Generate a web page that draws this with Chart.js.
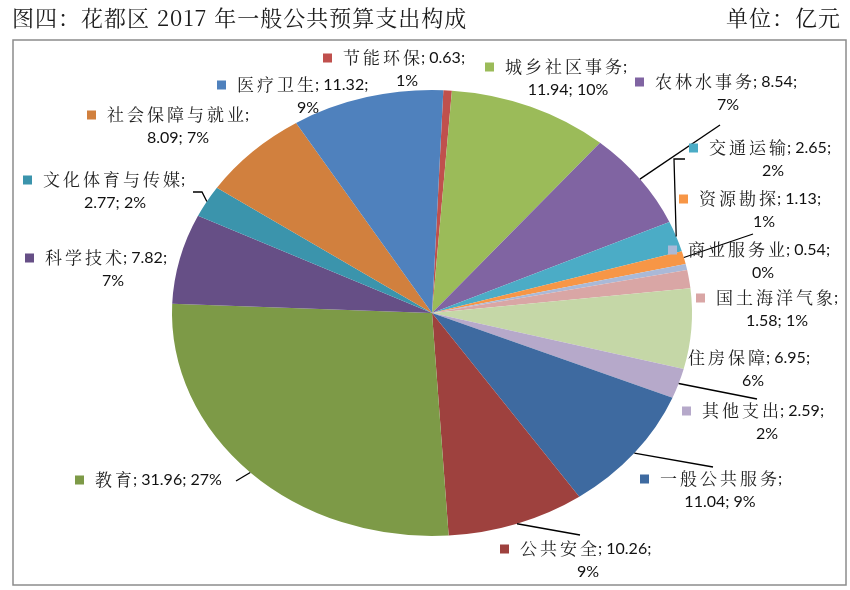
<!DOCTYPE html>
<html>
<head>
<meta charset="utf-8">
<script src="https://cdn.jsdelivr.net/npm/chart.js@4"></script>
<style>
  html, body { margin: 0; padding: 0; background: #fff; }
  #wrap { width: 850px; height: 590px; }
</style>
</head>
<body>
<div id="wrap"><canvas id="myChart" width="850" height="590"></canvas></div>
<script>
// data, clockwise from the top
const categories = [
  "节能环保", "城乡社区事务", "农林水事务", "交通运输", "资源勘探", "商业服务业",
  "国土海洋气象", "住房保障", "其他支出", "一般公共服务", "公共安全", "教育",
  "科学技术", "文化体育与传媒", "社会保障与就业", "医疗卫生"
];
const amounts = [
  0.63, 11.94, 8.54, 2.65, 1.13, 0.54,
  1.58, 6.95, 2.59, 11.04, 10.26, 31.96,
  7.82, 2.77, 8.09, 11.32
];
const sliceColors = [
  "#C0504D", "#9BBB59", "#8064A2", "#4BACC6", "#F79646", "#AAB9D7",
  "#D9A6A5", "#C5D7A7", "#B6A9CA", "#3E6AA0", "#9E413E", "#7D9A47",
  "#664F86", "#3B94AC", "#D1803E", "#4F81BD"
];
const titleText = "图四：花都区 2017 年一般公共预算支出构成";
const unitText = "单位：亿元";

// label placement: text start x, first line y, centre x of 2nd line,
// where the line breaks ("name" | "value" | "none"), extra leader points
const labelLayout = [
  { x: 343, y: 58, cx2: 407, br: "value", lead: [] },
  { x: 505, y: 67, cx2: 568, br: "name", lead: [] },
  { x: 655, y: 82, cx2: 728, br: "value", lead: [[720, 125]] },
  { x: 709, y: 148, cx2: 773, br: "value", lead: [[674, 159], [685, 159]] },
  { x: 699, y: 199, cx2: 764, br: "value", lead: [[753, 234]] },
  { x: 688, y: 250, cx2: 763, br: "value", lead: [] },
  { x: 716, y: 298, cx2: 777, br: "name", lead: [] },
  { x: 688, y: 358, cx2: 753, br: "value", lead: [] },
  { x: 702, y: 411, cx2: 767, br: "value", lead: [[757, 399]] },
  { x: 660, y: 479, cx2: 720, br: "name", lead: [[713, 467]] },
  { x: 520, y: 549, cx2: 588, br: "value", lead: [[580, 535]] },
  { x: 95, y: 480, cx2: 0, br: "none", lead: [[236, 481]] },
  { x: 45, y: 258, cx2: 113, br: "value", lead: [] },
  { x: 43, y: 180, cx2: 115, br: "name", lead: [[202, 192], [193, 192]] },
  { x: 107, y: 115, cx2: 178, br: "name", lead: [] },
  { x: 237, y: 85, cx2: 308, br: "value", lead: [] }
];

const SCALE_X = 1.166; // the pie in the picture is an ellipse
const CJK_FONT = '17px "Noto Serif CJK SC", "Noto Sans CJK SC"';
const NUM_FONT = '16px Lato, "Noto Sans", sans-serif';

const total = amounts.reduce((s, v) => s + v, 0);

function pieCenter(chart) {
  const arc = chart.getDatasetMeta(0).data[0];
  return { x: arc.x, y: arc.y, r: arc.outerRadius };
}

const ellipsePlugin = {
  id: "ellipse",
  beforeDatasetsDraw(chart) {
    const c = pieCenter(chart);
    const ctx = chart.ctx;
    ctx.save();
    ctx.translate(c.x, c.y);
    ctx.scale(SCALE_X, 1);
    ctx.translate(-c.x, -c.y);
  },
  afterDatasetsDraw(chart) {
    chart.ctx.restore();
  }
};

function drawCjk(ctx, text, x, y) {
  ctx.font = CJK_FONT;
  ctx.letterSpacing = "3px";
  ctx.fillStyle = "#222";
  ctx.fillText(text, x, y);
  const w = ctx.measureText(text).width;
  ctx.letterSpacing = "0px";
  return w;
}

function drawNum(ctx, text, x, y, align) {
  ctx.font = NUM_FONT;
  ctx.letterSpacing = "0px";
  ctx.fillStyle = "#111";
  ctx.textAlign = align || "left";
  ctx.fillText(text, x, y);
  ctx.textAlign = "left";
}

const labelPlugin = {
  id: "labels",
  afterDraw(chart) {
    const ctx = chart.ctx;
    const c = pieCenter(chart);
    const arcs = chart.getDatasetMeta(0).data;

    ctx.save();
    // frame
    ctx.strokeStyle = "#8c8c8c";
    ctx.lineWidth = 1.5;
    ctx.strokeRect(13, 40, 833, 545);

    // title
    ctx.textBaseline = "middle";
    ctx.fillStyle = "#1a1a1a";
    ctx.font = '22px "Noto Serif CJK SC", "Noto Sans CJK SC"';
    ctx.letterSpacing = "1px";
    ctx.textAlign = "left";
    ctx.fillText(titleText, 12, 18);
    ctx.textAlign = "right";
    ctx.fillText(unitText, 841, 18);
    ctx.letterSpacing = "0px";
    ctx.textAlign = "left";

    categories.forEach((name, i) => {
      const lay = labelLayout[i];
      const arc = arcs[i];

      // leader line from the slice edge
      if (lay.lead.length) {
        const mid = (arc.startAngle + arc.endAngle) / 2;
        ctx.beginPath();
        ctx.moveTo(c.x + Math.cos(mid) * c.r * SCALE_X, c.y + Math.sin(mid) * c.r);
        lay.lead.forEach((p) => ctx.lineTo(p[0], p[1]));
        ctx.strokeStyle = "#000";
        ctx.lineWidth = 1.3;
        ctx.stroke();
      }

      const val = amounts[i].toFixed(2);
      const pct = Math.round((amounts[i] / total) * 100) + "%";

      // legend key
      ctx.fillStyle = sliceColors[i];
      ctx.fillRect(lay.x - 20, lay.y - 4.5, 9, 9);

      const w = drawCjk(ctx, name, lay.x, lay.y);
      const x2 = lay.x + w - 2;
      if (lay.br === "name") {
        drawNum(ctx, ";", x2, lay.y);
        drawNum(ctx, val + "; " + pct, lay.cx2, lay.y + 23, "center");
      } else if (lay.br === "value") {
        drawNum(ctx, "; " + val + ";", x2, lay.y);
        drawNum(ctx, pct, lay.cx2, lay.y + 23, "center");
      } else {
        drawNum(ctx, "; " + val + "; " + pct, x2, lay.y);
      }
    });
    ctx.restore();
  }
};

const ctx = document.getElementById("myChart");

new Chart(ctx, {
  type: "pie",
  data: {
    labels: categories,
    datasets: [
      {
        data: amounts,
        backgroundColor: sliceColors,
        borderWidth: 0,
      },
    ],
  },
  options: {
    responsive: false,
    animation: false,
    rotation: 2.5,
    layout: {
      padding: { top: 90, bottom: 54, left: 192, right: 178 },
    },
    plugins: {
      legend: { display: false },
      tooltip: { enabled: false },
    },
  },
  plugins: [ellipsePlugin, labelPlugin],
});
</script>
</body>
</html>
